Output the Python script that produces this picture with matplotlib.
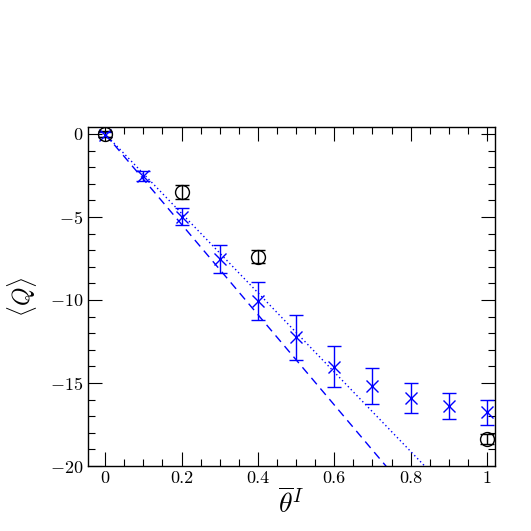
import matplotlib
matplotlib.use("Agg")
import matplotlib.pyplot as plt
import numpy as np
from matplotlib.ticker import MultipleLocator

plt.rcParams['mathtext.fontset'] = 'cm'
plt.rcParams['font.family'] = ['cmr10', 'DejaVu Serif']

# measured <Q> (crosses)
theta = [0.0, 0.1, 0.2, 0.3, 0.4, 0.5, 0.6, 0.7, 0.8, 0.9, 1.0]
q_cross = [-0.05, -2.53, -4.98, -7.55, -10.05, -12.25, -14.02, -15.18, -15.92, -16.39, -16.77]
q_cross_err = [0.15, 0.33, 0.52, 0.85, 1.15, 1.35, 1.25, 1.08, 0.90, 0.78, 0.73]

# circles
theta_circ = [0.0, 0.2, 0.4, 1.0]
q_circ = [0.0, -3.5, -7.38, -18.39]
q_circ_err = [0.2, 0.43, 0.4, 0.3]

# straight-line predictions (slopes)
slope_dashed = -27.2
slope_dotted = -23.9

x_ticks = [0, 0.2, 0.4, 0.6, 0.8, 1.0]
x_ticklabels = ['0', '0.2', '0.4', '0.6', '0.8', '1']
y_ticks = [0, -5, -10, -15, -20]
y_ticklabels = ['$0$', '$-5$', '$-10$', '$-15$', '$-20$']

fig = plt.figure(figsize=(5.31, 5.31), dpi=100)
ax = fig.add_axes([0.1657, 0.1224, 0.7665, 0.6384])

xl = np.array([0.0, 1.0])
ax.plot(xl, slope_dashed * xl, color='blue', lw=1.0, ls=(0, (6, 4)))
ax.plot(xl, slope_dotted * xl, color='blue', lw=1.0, ls=(0, (1, 2)))

ax.errorbar(theta, q_cross, yerr=q_cross_err, fmt='x', color='blue', ms=8,
            mew=1.0, elinewidth=1.0, capsize=5, capthick=1.0)
ax.errorbar(theta_circ, q_circ, yerr=q_circ_err, fmt='o', mfc='none', mec='black',
            ecolor='black', ms=10, mew=1.0, elinewidth=1.0, capsize=5, capthick=1.0)

ax.set_xlim(-0.045, 1.021)
ax.set_ylim(-20, 0.42)
ax.xaxis.set_minor_locator(MultipleLocator(0.05))
ax.yaxis.set_minor_locator(MultipleLocator(1))
ax.tick_params(which='both', direction='in', top=True, right=True, labelsize=13)
ax.tick_params(which='major', length=10, width=0.8)
ax.tick_params(which='minor', length=5, width=0.8)
ax.set_xticks(x_ticks)
ax.set_xticklabels(x_ticklabels)
ax.set_yticks(y_ticks)
ax.set_yticklabels(y_ticklabels)
for s in ax.spines.values():
    s.set_linewidth(1.0)

ax.set_xlabel(r'$\overline{\theta}^I$', fontsize=20, labelpad=2)
ax.set_ylabel(r'$\langle Q \rangle$', fontsize=17, labelpad=8)

fig.savefig('out.png', dpi=100)
